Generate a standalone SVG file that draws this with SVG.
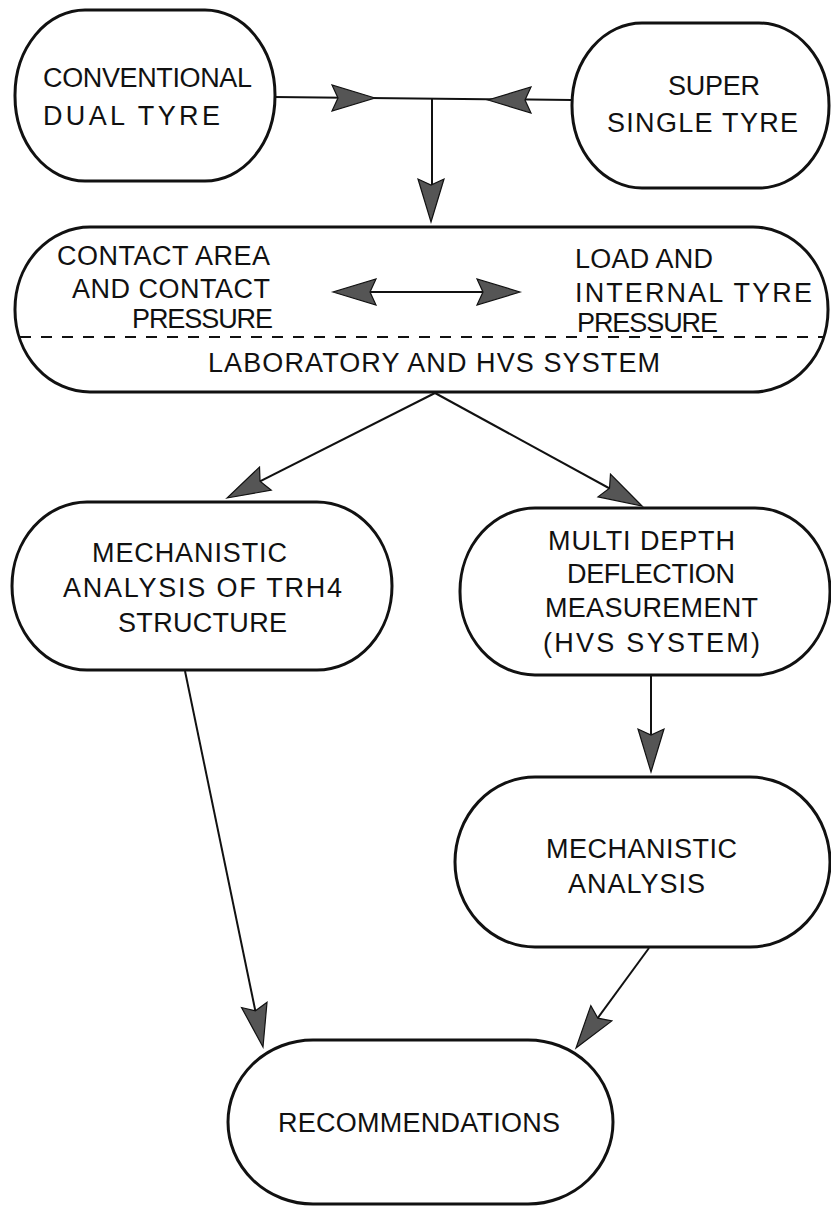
<svg xmlns="http://www.w3.org/2000/svg" width="831" height="1206" viewBox="0 0 831 1206">
<style>
.node{fill:#fff;stroke:#111;stroke-width:3}
.lbl{font-family:"Liberation Sans",Arial,sans-serif;font-size:27px;fill:#111}
.conn{stroke:#111;stroke-width:2;fill:none}
.dash{stroke:#111;stroke-width:2;stroke-dasharray:11 10;fill:none}
.ah{fill:#555;stroke:#111;stroke-width:1.2}
</style>
<defs>
<path id="ah" d="M0,0 L-43,-13 L-37,0 L-43,13 Z"/>
</defs>
<rect x="0" y="0" width="831" height="1206" fill="#fff"/>

<g id="node-conventional">
<rect class="node" x="15" y="10" width="260" height="171" rx="70" ry="85"/>
<text class="lbl" x="43" y="87" textLength="209" lengthAdjust="spacing">CONVENTIONAL</text>
<text class="lbl" x="43" y="125" textLength="177" lengthAdjust="spacing">DUAL TYRE</text>
</g>

<g id="node-supersingle">
<rect class="node" x="572" y="23" width="257" height="165" rx="70" ry="82"/>
<text class="lbl" x="668" y="95" textLength="92" lengthAdjust="spacing">SUPER</text>
<text class="lbl" x="607" y="132" textLength="191" lengthAdjust="spacing">SINGLE TYRE</text>
</g>

<g id="node-contact">
<rect class="node" x="15" y="227" width="813" height="165" rx="75" ry="82"/>
<path class="dash" d="M20,337 L824,337"/>
<text class="lbl" x="57" y="265" textLength="213" lengthAdjust="spacing">CONTACT AREA</text>
<text class="lbl" x="72" y="298" textLength="198" lengthAdjust="spacing">AND CONTACT</text>
<text class="lbl" x="132" y="328" textLength="141" lengthAdjust="spacing">PRESSURE</text>
<text class="lbl" x="575" y="268" textLength="138" lengthAdjust="spacing">LOAD AND</text>
<text class="lbl" x="575" y="302" textLength="237" lengthAdjust="spacing">INTERNAL TYRE</text>
<text class="lbl" x="577" y="332" textLength="141" lengthAdjust="spacing">PRESSURE</text>
<text class="lbl" x="208" y="372" textLength="452" lengthAdjust="spacing">LABORATORY AND HVS SYSTEM</text>
</g>

<g id="node-mechanistic-trh4">
<rect class="node" x="12" y="502" width="380" height="168" rx="75" ry="84"/>
<text class="lbl" x="92" y="562" textLength="195" lengthAdjust="spacing">MECHANISTIC</text>
<text class="lbl" x="63" y="597" textLength="279" lengthAdjust="spacing">ANALYSIS OF TRH4</text>
<text class="lbl" x="118" y="632" textLength="169" lengthAdjust="spacing">STRUCTURE</text>
</g>

<g id="node-multidepth">
<rect class="node" x="460" y="508" width="370" height="167" rx="75" ry="83"/>
<text class="lbl" x="548" y="550" textLength="187" lengthAdjust="spacing">MULTI DEPTH</text>
<text class="lbl" x="567" y="583" textLength="168" lengthAdjust="spacing">DEFLECTION</text>
<text class="lbl" x="545" y="617" textLength="213" lengthAdjust="spacing">MEASUREMENT</text>
<text class="lbl" x="543" y="652" textLength="217" lengthAdjust="spacing">(HVS SYSTEM)</text>
</g>

<g id="node-mechanistic">
<rect class="node" x="455" y="777" width="375" height="170" rx="80" ry="85"/>
<text class="lbl" x="546" y="858" textLength="191" lengthAdjust="spacing">MECHANISTIC</text>
<text class="lbl" x="568" y="893" textLength="137" lengthAdjust="spacing">ANALYSIS</text>
</g>

<g id="node-recommendations">
<rect class="node" x="228" y="1040" width="385" height="164" rx="85" ry="82"/>
<text class="lbl" x="278" y="1132" textLength="282" lengthAdjust="spacing">RECOMMENDATIONS</text>
</g>

<g id="connectors">
<path class="conn" d="M274,97 L572,100"/>
<path class="conn" d="M432,99 L432,218"/>
<path class="conn" d="M337,292 L516,292"/>
<path class="conn" d="M435,393 L231,496"/>
<path class="conn" d="M435,393 L638,504"/>
<path class="conn" d="M651,676 L651,768"/>
<path class="conn" d="M185,671 L262,1043"/>
<path class="conn" d="M649,948 L578,1045"/>
<use href="#ah" class="ah" transform="translate(375,98)"/>
<use href="#ah" class="ah" transform="translate(488,100) rotate(180)"/>
<use href="#ah" class="ah" transform="translate(431,222) rotate(90)"/>
<use href="#ah" class="ah" transform="translate(333,292) rotate(180)"/>
<use href="#ah" class="ah" transform="translate(520,292)"/>
<use href="#ah" class="ah" transform="translate(227,498) rotate(153.2)"/>
<use href="#ah" class="ah" transform="translate(642,506) rotate(28.6)"/>
<use href="#ah" class="ah" transform="translate(651,772) rotate(90)"/>
<use href="#ah" class="ah" transform="translate(263,1047) rotate(78.3)"/>
<use href="#ah" class="ah" transform="translate(576,1048) rotate(126.1)"/>
</g>
</svg>
